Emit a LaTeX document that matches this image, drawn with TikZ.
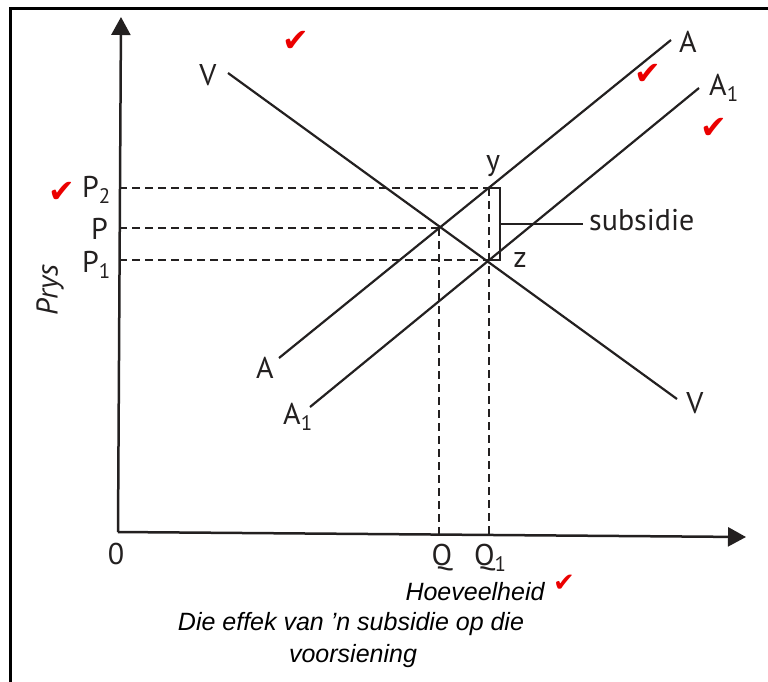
\documentclass[tikz,border=0pt]{standalone}
\usepackage{fontspec}
\setmainfont{PT Sans}
\newfontfamily\capfont{Liberation Sans}
\newfontfamily\djv{DejaVu Sans}
\usetikzlibrary{arrows.meta}
\definecolor{ink}{RGB}{35,32,32}
\definecolor{tick}{RGB}{235,0,0}
\begin{document}
\begin{tikzpicture}[x=1pt,y=-1pt,
  curve/.style={draw=ink,line width=2.2pt},
  guide/.style={draw=ink,line width=2.1pt,dash pattern=on 8pt off 5pt},
  axis/.style={draw=ink,line width=2.5pt,-{Triangle[length=18pt,width=19pt]}},
  lbl/.style={text=ink,font=\fontsize{30}{32}\selectfont,inner sep=0pt},
  captxt/.style={text=black,font=\capfont\itshape\fontsize{25}{28}\selectfont,inner sep=0pt},
  chk/.style={text=tick,font=\djv\fontsize{32}{32}\selectfont,inner sep=0pt}]
\useasboundingbox (0,0) rectangle (768,681);
% frame
\draw[line width=3pt,black] (10.5,700) -- (10.5,8.5) -- (780,8.5);
% coordinates
\coordinate (O) at (118,532);
\coordinate (Ytop) at (121,17);
\coordinate (Xend) at (746,537);
\coordinate (E) at (439,228);
\coordinate (Y) at (489,188);
\coordinate (Z) at (489,260);
\coordinate (Vs) at (228,73);
\coordinate (Ve) at (677,399);
\coordinate (As) at (279,358);
\coordinate (Ae) at (671,40);
\coordinate (A1s) at (310,407);
\coordinate (A1e) at (699,88);
\coordinate (P2ax) at (119,188);
\coordinate (Pax) at (119,228);
\coordinate (P1ax) at (119,260);
\coordinate (Qax) at (439,535);
\coordinate (Q1ax) at (489,535);
\coordinate (Yb) at (500,188);
\coordinate (Zb) at (500,260);
\coordinate (Sm) at (500,224);
\coordinate (Se) at (583,224);
% axes
\draw[axis] (O) -- (Ytop);
\draw[axis] (O) -- (Xend);
% dashed guides
\draw[guide] (P2ax) -- (Y);
\draw[guide] (Pax) -- (E);
\draw[guide] (P1ax) -- (Z);
\draw[guide] (E) -- (Qax);
\draw[guide] (Y) -- (Q1ax);
% curves
\draw[curve] (Vs) -- (Ve);
\draw[curve] (As) -- (Ae);
\draw[curve] (A1s) -- (A1e);
% subsidy bracket
\draw[curve] (Y) -- (Yb) -- (Zb) -- (Z);
\draw[curve] (Sm) -- (Se);
% labels
\node[lbl] (lV1) at (208,75) {V};
\node[lbl] (lV2) at (695,403) {V};
\node[lbl] (lA1) at (265,368) {A};
\node[lbl] (lA2) at (688,42) {A};
\node[lbl,anchor=west] (lA11) at (283,417) {A\textsubscript{1}};
\node[lbl,anchor=west] (lA12) at (709,88) {A\textsubscript{1}};
\node[lbl,anchor=west] (lP2) at (82,190) {P\textsubscript{2}};
\node[lbl,anchor=west] (lP) at (91,229) {P};
\node[lbl,anchor=west] (lP1) at (82,265) {P\textsubscript{1}};
\node[lbl,rotate=90,font=\itshape\fontsize{30}{32}\selectfont] (lPrys) at (50,290) {Prys};
\node[lbl] (ly) at (493,166) {y};
\node[lbl] (lz) at (520,260) {z};
\node[lbl,anchor=west] (lsub) at (589,220) {subsidie};
\node[lbl] (l0) at (116,554) {0};
\node[lbl] (lQ) at (442,558) {Q};
\node[lbl,anchor=west] (lQ1) at (474,558) {Q\textsubscript{1}};
% captions
\node[captxt] (hoe) at (475,592) {Hoeveelheid};
\node[captxt] (c1) at (351,624) {Die effek van ’n subsidie op die};
\node[captxt] (c2) at (353,656) {voorsiening};
% red ticks
\node[chk] (t1) at (296,41) {✔};
\node[chk] (t2) at (62,192) {✔};
\node[chk] (t3) at (648,74) {✔};
\node[chk] (t4) at (714,128) {✔};
\node[chk,font=\djv\fontsize{26}{26}\selectfont] (t5) at (564,583) {✔};
\end{tikzpicture}
\end{document}
